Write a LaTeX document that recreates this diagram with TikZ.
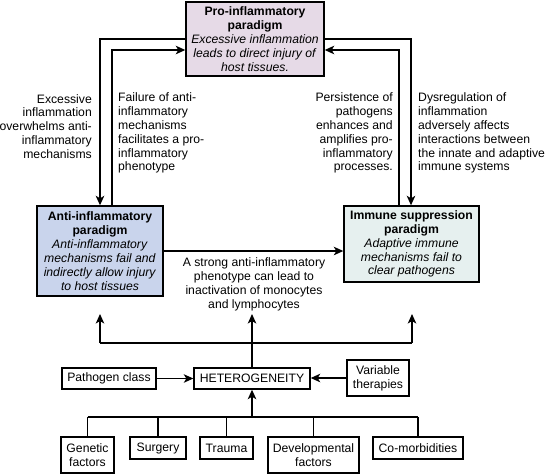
\documentclass[tikz,border=0pt]{standalone}
\usepackage{fontspec}
\setmainfont{Liberation Sans}
\usetikzlibrary{arrows.meta}
\definecolor{proC}{HTML}{E6DAE7}
\definecolor{antiC}{HTML}{C9D4EC}
\definecolor{immC}{HTML}{E6F0EF}
\begin{document}
\begin{tikzpicture}[x=1pt,y=-1pt,
  every node/.style={font=\fontsize{12.2}{13.9}\selectfont, inner sep=0pt},
  box/.style={draw, line width=1.4pt, align=center},
  lbl/.style={align=left},
  arr/.style={line width=1.3pt, -{Stealth[length=9.5pt,width=8.5pt,inset=2.5pt]}},
  ln/.style={line width=1.3pt}]
\useasboundingbox (0,0) rectangle (545,474);
% main paradigm boxes
\node[box, fill=proC, minimum width=138pt, minimum height=74pt] (pro) at (255,39)
  {\textbf{Pro-inflammatory}\\\textbf{paradigm}\\\textit{Excessive inflammation}\\\textit{leads to direct injury of}\\\textit{host tissues.}};
\node[box, fill=antiC, minimum width=126pt, minimum height=90pt] (anti) at (100,251)
  {\textbf{Anti-inflammatory}\\\textbf{paradigm}\\\textit{Anti-inflammatory}\\\textit{mechanisms fail and}\\\textit{indirectly allow injury}\\\textit{to host tissues}};
\node[box, fill=immC, minimum width=135pt, minimum height=76pt] (imm) at (411.5,244)
  {\textbf{Immune suppression}\\\textbf{paradigm}\\\textit{Adaptive immune}\\\textit{mechanisms fail to}\\\textit{clear pathogens}};
% heterogeneity and factors
\node[box, minimum width=116pt, minimum height=21pt] (het) at (252,378.5) {HETEROGENEITY};
\node[box, minimum width=94pt, minimum height=21pt] (path) at (109,378.5) {Pathogen class};
\node[box, minimum width=62pt, minimum height=36pt] (var) at (378,378) {Variable\\therapies};
\node[box, minimum width=53pt, minimum height=36pt] (gen) at (87.5,455) {Genetic\\factors};
\node[box, minimum width=56pt, minimum height=22pt] (sur) at (158,448) {Surgery};
\node[box, minimum width=53pt, minimum height=22pt] (tra) at (226.5,448) {Trauma};
\node[box, minimum width=91pt, minimum height=36pt] (dev) at (313.5,455) {Developmental\\factors};
\node[box, minimum width=90pt, minimum height=22pt] (com) at (418,448) {Co-morbidities};
% labels
\node[align=right, anchor=east] (l1) at (92,126.5)
  {Excessive\\inflammation\\overwhelms anti-\\inflammatory\\mechanisms};
\node[lbl, anchor=west] (l2) at (118,133)
  {Failure of anti-\\inflammatory\\mechanisms\\facilitates a pro-\\inflammatory\\phenotype};
\node[align=right, anchor=east] (r1) at (393,133)
  {Persistence of\\pathogens\\enhances and\\amplifies pro-\\inflammatory\\processes.};
\node[lbl, anchor=west] (r2) at (418,133)
  {Dysregulation of\\inflammation\\adversely affects\\interactions between\\the innate and adaptive\\immune systems};
\node[align=center] (mid) at (254,284)
  {A strong anti-inflammatory\\phenotype can lead to\\inactivation of monocytes\\and lymphocytes};
% coordinates
\coordinate (li) at (112,50);
\coordinate (ri) at (399,50);
\coordinate (ro) at (411,39);
\coordinate (tL) at (100,314);
\coordinate (tM) at (252,314);
\coordinate (tR) at (412,314);
\coordinate (bL) at (100,343);
\coordinate (bM) at (252,343);
\coordinate (bR) at (412,343);
\coordinate (h1) at (87.5,417);
\coordinate (h2) at (418,417);
\coordinate (hm) at (252,417);
% top loops
\draw[arr] (pro.west) -| (anti.north);
\draw[arr] (anti.north -| li) |- (pro.west |- li);
\draw[arr] (pro.east) -| (imm.north -| ro);
\draw[arr] (imm.north -| ri) |- (pro.east |- ri);
\draw[arr] (anti.east) -- (imm.west |- anti.east);
% heterogeneity fan-out
\draw[ln] (bL) -- (bR);
\draw[arr] (bL) -- (tL);
\draw[arr] (het.north) -- (tM);
\draw[arr] (bR) -- (tR);
\draw[arr] (path.east) -- (het.west);
\draw[arr] (var.west) -- (het.east |- var.west);
% factors tree
\draw[ln] (h1) -- (h2);
\draw[ln] (gen.north) -- (gen.north |- h1);
\draw[ln] (sur.north) -- (sur.north |- h1);
\draw[ln] (tra.north) -- (tra.north |- h1);
\draw[ln] (dev.north) -- (dev.north |- h1);
\draw[ln] (com.north) -- (com.north |- h1);
\draw[arr] (hm) -- (het.south);
\end{tikzpicture}
\end{document}
